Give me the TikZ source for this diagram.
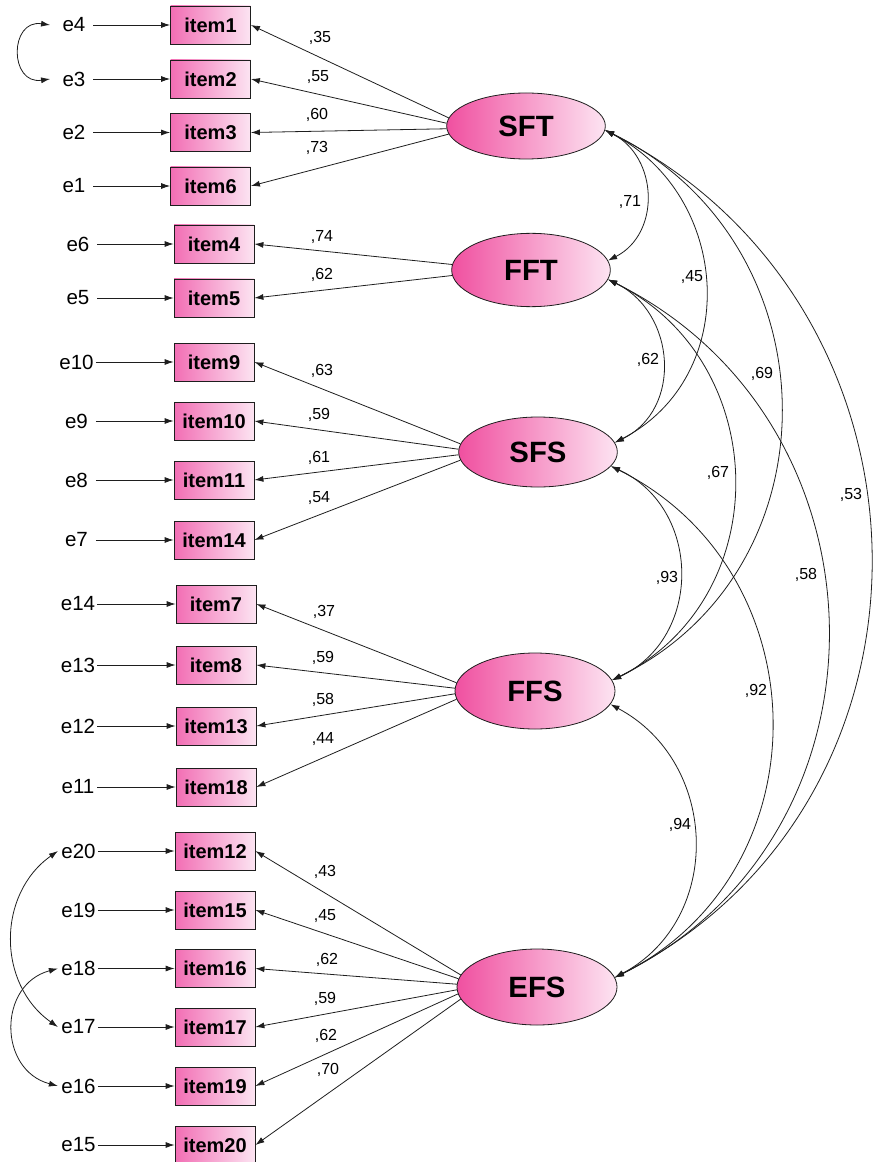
\documentclass[tikz,border=0pt]{standalone}
\usepackage{fontspec}
\setmainfont{Liberation Sans}
\usetikzlibrary{shapes.geometric,arrows.meta}
\definecolor{latL}{RGB}{240,80,160}
\definecolor{latR}{RGB}{253,228,242}
\definecolor{boxL}{RGB}{242,110,180}
\definecolor{boxR}{RGB}{252,228,242}
\definecolor{ink}{RGB}{30,30,30}
\tikzset{
  itembox/.style={draw=ink, line width=0.6pt, left color=boxL, right color=boxR,
    minimum width=60pt, minimum height=28.5pt, inner sep=0pt,
    font=\bfseries\fontsize{15}{15}\selectfont},
  latent/.style={ellipse, draw=ink, line width=0.6pt, left color=latL, right color=latR,
    inner sep=0pt, minimum width=119pt, font=\bfseries\fontsize{22}{22}\selectfont},
  errlab/.style={minimum width=28.5pt, inner sep=0pt, font=\fontsize{15.4}{16}\selectfont},
  coef/.style={inner sep=0pt, font=\fontsize{12}{12}\selectfont},
  arr/.style={draw=ink, line width=0.6pt, -{Latex[length=6.75pt,width=4.5pt]}},
  darr/.style={draw=ink, line width=0.6pt, {Latex[length=6.75pt,width=4.5pt]}-{Latex[length=6.75pt,width=4.5pt]}},
}
\begin{document}
\begin{tikzpicture}[x=0.75pt,y=-0.75pt]
\useasboundingbox (0,0) rectangle (876,1162);

% latent variables
\node[latent, minimum height=49.5pt] (SFT) at (526,126) {SFT};
\node[latent, minimum height=55pt] (FFT) at (531,270) {FFT};
\node[latent, minimum height=52.5pt] (SFS) at (538,452) {SFS};
\node[latent, minimum height=57pt, minimum width=120pt] (FFS) at (535,691) {FFS};
\node[latent, minimum height=57pt, minimum width=120pt] (EFS) at (537,987) {EFS};

% group 1
\node[itembox] (i1) at (210.5,25) {item1};
\node[itembox] (i2) at (210.5,79) {item2};
\node[itembox] (i3) at (210.5,132.5) {item3};
\node[itembox] (i6) at (210.5,186) {item6};
\node[errlab] (e4) at (74,25) {e4};
\node[errlab] (e3) at (74,79) {e3};
\node[errlab] (e2) at (74,132.5) {e2};
\node[errlab] (e1) at (74,186) {e1};
% group 2
\node[itembox] (i4) at (214,244) {item4};
\node[itembox] (i5) at (214,298) {item5};
\node[errlab] (e6) at (78,244) {e6};
\node[errlab] (e5) at (78,298) {e5};
% group 3
\node[itembox] (i9) at (214,362) {item9};
\node[itembox] (i10) at (214,421) {item10};
\node[itembox] (i11) at (214,480) {item11};
\node[itembox] (i14) at (214,540) {item14};
\node[errlab] (e10) at (76.5,362) {e10};
\node[errlab] (e9) at (76.5,421) {e9};
\node[errlab] (e8) at (76.5,480) {e8};
\node[errlab] (e7) at (76.5,540) {e7};
% group 4
\node[itembox] (i7) at (216,604) {item7};
\node[itembox] (i8) at (216,665) {item8};
\node[itembox] (i13) at (216,726) {item13};
\node[itembox] (i18) at (216,787) {item18};
\node[errlab] (e14) at (78,604) {e14};
\node[errlab] (e13) at (78,665) {e13};
\node[errlab] (e12) at (78,726) {e12};
\node[errlab] (e11) at (78,787) {e11};
% group 5
\node[itembox] (i12) at (215,851) {item12};
\node[itembox] (i15) at (215,910) {item15};
\node[itembox] (i16) at (215,968.5) {item16};
\node[itembox] (i17) at (215,1027) {item17};
\node[itembox] (i19) at (215,1086) {item19};
\node[itembox] (i20) at (215,1145) {item20};
\node[errlab] (e20) at (78.5,851) {e20};
\node[errlab] (e19) at (78.5,910) {e19};
\node[errlab] (e18) at (78.5,968.5) {e18};
\node[errlab] (e17) at (78.5,1027) {e17};
\node[errlab] (e16) at (78.5,1086) {e16};
\node[errlab] (e15) at (78.5,1145) {e15};

% error -> item arrows
\foreach \e/\i in {e4/i1,e3/i2,e2/i3,e1/i6,e6/i4,e5/i5,e10/i9,e9/i10,e8/i11,e7/i14,
  e14/i7,e13/i8,e12/i13,e11/i18,e20/i12,e19/i15,e18/i16,e17/i17,e16/i19,e15/i20}
  \draw[arr] (\e.east) -- (\i.west);

% latent -> item arrows (start near the left tip of each ellipse)
\foreach \a/\i in {174/i1,178/i2,182/i3,186/i6} \draw[arr] (SFT.\a) -- (\i.east);
\foreach \a/\i in {176/i4,184/i5} \draw[arr] (FFT.\a) -- (\i.east);
\foreach \a/\i in {174/i9,178/i10,182/i11,186/i14} \draw[arr] (SFS.\a) -- (\i.east);
\foreach \a/\i in {174/i7,178/i8,182/i13,186/i18} \draw[arr] (FFS.\a) -- (\i.east);
\foreach \a/\i in {171/i12,174.5/i15,178/i16,182/i17,185.5/i19,189/i20} \draw[arr] (EFS.\a) -- (\i.east);

% loadings
\node[coef] (c1) at (320,38) {,35};
\node[coef] (c2) at (318,77) {,55};
\node[coef] (c3) at (317,115) {,60};
\node[coef] (c6) at (317,148) {,73};
\node[coef] (c4) at (322,237) {,74};
\node[coef] (c5) at (322,275) {,62};
\node[coef] (c9) at (322,371) {,63};
\node[coef] (c10) at (319,415) {,59};
\node[coef] (c11) at (319,458) {,61};
\node[coef] (c14) at (319,498) {,54};
\node[coef] (c7) at (324,612) {,37};
\node[coef] (c8) at (323,658) {,59};
\node[coef] (c13) at (323,700) {,58};
\node[coef] (c18) at (323,739) {,44};
\node[coef] (c12) at (325,872) {,43};
\node[coef] (c15) at (325,916) {,45};
\node[coef] (c16) at (327,960) {,62};
\node[coef] (c17) at (325,999) {,59};
\node[coef] (c19) at (326,1036) {,62};
\node[coef] (c20) at (328,1070) {,70};

% correlations between latents
\draw[darr] (SFT.357) .. controls +(53,27) and +(53,-27) .. (FFT.7);
\draw[darr] (SFT.357) .. controls +(127,66) and +(127,-66) .. (SFS.7);
\draw[darr] (SFT.357) .. controls +(229,112) and +(229,-112) .. (FFS.8);
\draw[darr] (SFT.357) .. controls +(347,176) and +(347,-176) .. (EFS.7);
\draw[darr] (FFT.353) .. controls +(68,33) and +(68,-33) .. (SFS.7);
\draw[darr] (FFT.353) .. controls +(165,82) and +(165,-82) .. (FFS.8);
\draw[darr] (FFT.353) .. controls +(288,143) and +(288,-143) .. (EFS.7);
\draw[darr] (SFS.349) .. controls +(91,42) and +(91,-42) .. (FFS.8);
\draw[darr] (SFS.349) .. controls +(211,105) and +(211,-105) .. (EFS.7);
\draw[darr] (FFS.350) .. controls +(109,58) and +(109,-58) .. (EFS.7);

\node[coef] (r1) at (630,202) {,71};
\node[coef] (r2) at (692,277) {,45};
\node[coef] (r3) at (648,360) {,62};
\node[coef] (r4) at (762,374) {,69};
\node[coef] (r5) at (718,473) {,67};
\node[coef] (r6) at (851,495) {,53};
\node[coef] (r7) at (667,578) {,93};
\node[coef] (r8) at (806,575) {,58};
\node[coef] (r9) at (756,691) {,92};
\node[coef] (r10) at (680,825) {,94};

% error covariances
\draw[darr] ([xshift=-3.5pt]e4.west) .. controls +(-41,-6) and +(-41,6) .. ([xshift=-3.5pt]e3.west);
\draw[darr] ([xshift=-1pt]e20.west) .. controls +(-61,43) and +(-61,-43) .. ([xshift=-1pt]e17.west);
\draw[darr] ([xshift=-1pt]e18.west) .. controls +(-60,16) and +(-60,-16) .. ([xshift=-1pt]e16.west);
\end{tikzpicture}
\end{document}
